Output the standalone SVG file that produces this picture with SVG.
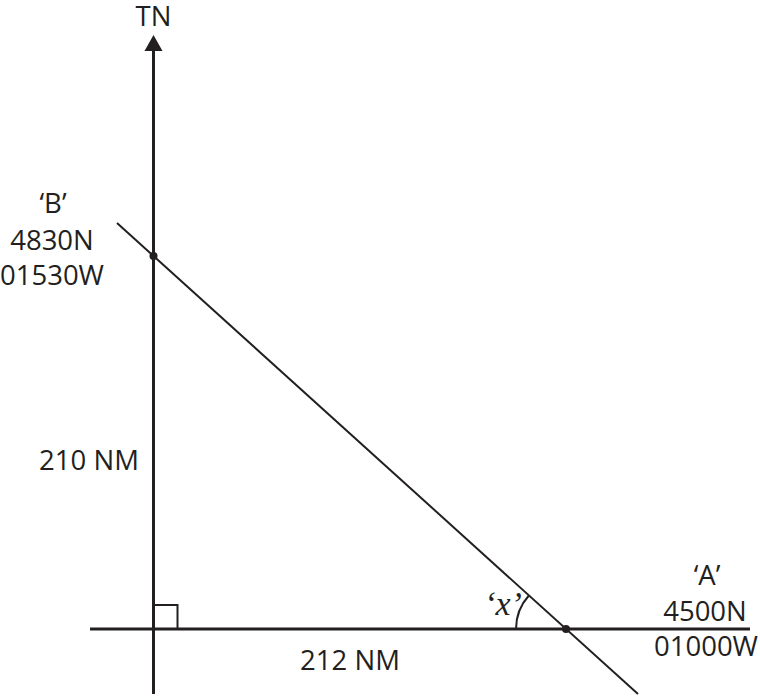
<svg xmlns="http://www.w3.org/2000/svg" width="760" height="696" viewBox="0 0 760 696">
<style>
.t{font-family:"Open Sans","Noto Sans","Liberation Sans",sans-serif;font-size:27.5px;fill:#231f20;text-anchor:middle}
.ax{stroke:#231f20;stroke-width:3;fill:none}
.ln{stroke:#231f20;stroke-width:2;fill:none}
</style>
<rect width="760" height="696" fill="#fff"/>
<g id="connectors">
<line class="ax" x1="153.5" y1="694" x2="153.5" y2="50"/>
<polygon points="153.5,35 162.5,51 144.5,51" fill="#231f20"/>
<line class="ax" x1="90" y1="629" x2="750" y2="629"/>
<line class="ln" x1="117" y1="223" x2="638" y2="694"/>
<rect class="ln" x="153.5" y="605" width="24" height="24" stroke-width="1.8"/>
<path class="ln" d="M516,629 A50,50 0 0 1 528.9,595.5"/>
</g>
<g id="node-TN"><text class="t" x="153.5" y="26">TN</text></g>
<g id="node-B">
<circle cx="153.5" cy="256" r="4" fill="#231f20"/>
<text class="t" x="53" y="213">‘B’</text>
<text class="t" x="52" y="250">4830N</text>
<text class="t" x="52" y="285">01530W</text>
</g>
<g id="node-A">
<circle cx="566" cy="629" r="4" fill="#231f20"/>
<text class="t" x="707" y="585">‘A’</text>
<text class="t" x="705" y="621">4500N</text>
<text class="t" x="706" y="656">01000W</text>
</g>
<g id="label-x"><text x="503" y="615" font-family="Liberation Serif,serif" font-style="italic" font-size="34" fill="#231f20" text-anchor="middle">‘x’</text></g>
<g id="label-210"><text class="t" x="89" y="470">210 NM</text></g>
<g id="label-212"><text class="t" x="350" y="670">212 NM</text></g>
</svg>
